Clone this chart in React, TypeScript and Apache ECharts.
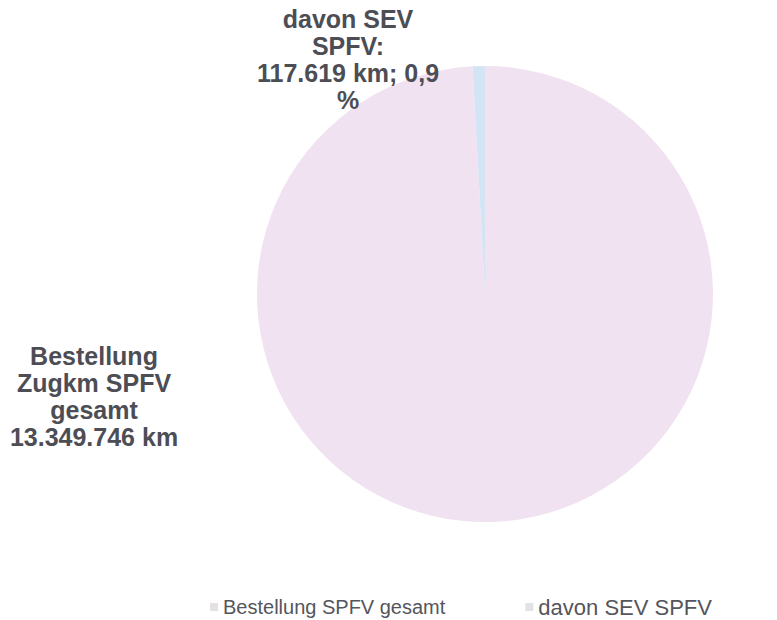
import React, { useEffect, useRef } from "react";
import * as echarts from "echarts";

const categories = ["Bestellung SPFV gesamt", "davon SEV SPFV"];
const values = [13349746, 117619];
const labelTitles = ["Bestellung\nZugkm SPFV\ngesamt\n", "davon SEV\nSPFV:\n"];
const sliceColors = ["#f0e2f0", "#d3e4f4"];
const legendIconColors = ["#e4e0e4", "#e2e2e6"];

function formatDe(n: number): string {
  const s = Math.round(n).toString();
  return s.replace(/\B(?=(\d{3})+(?!\d))/g, ".");
}

export default function App() {
  const ref = useRef<HTMLDivElement>(null);
  useEffect(() => {
    document.body.style.margin = "0";
    if (!ref.current) return;
    const chart = echarts.init(ref.current, null, { renderer: "svg" });
    const labelPos = [
      [94, 396],
      [348, 59],
    ];
    const font = "'Liberation Sans', Arial, sans-serif";
    chart.setOption({
      animation: false,
      backgroundColor: "#ffffff",
      textStyle: { fontFamily: font },
      legend: {
        left: 205,
        top: 591,
        icon: "rect",
        itemWidth: 8,
        itemHeight: 8,
        itemGap: 80,
        textStyle: { fontSize: 20, color: "#55555c", fontFamily: font },
        data: [
          { name: categories[0], itemStyle: { color: legendIconColors[0] } },
          {
            name: categories[1],
            itemStyle: { color: legendIconColors[1] },
            textStyle: { fontSize: 22, color: "#55555c", fontFamily: font },
          },
        ],
      },
      series: [
        {
          type: "pie",
          center: [485, 294],
          radius: 228,
          startAngle: 90,
          clockwise: true,
          avoidLabelOverlap: false,
          itemStyle: { borderWidth: 0 },
          label: {
            show: true,
            position: "outside",
            fontSize: 25,
            fontWeight: "bold",
            lineHeight: 27,
            color: "#4d4d55",
            align: "center",
            fontFamily: font,
            formatter: (p: any) => {
              if (p.dataIndex === 0) {
                return labelTitles[0] + formatDe(p.value) + " km";
              }
              const pct = p.percent.toFixed(1).replace(".", ",");
              return labelTitles[1] + formatDe(p.value) + " km; " + pct + "\n%";
            },
          },
          labelLine: { show: false },
          labelLayout: (params: any) => ({
            x: labelPos[params.dataIndex][0],
            y: labelPos[params.dataIndex][1],
            align: "center",
            verticalAlign: "middle",
          }),
          data: categories.map((c, i) => ({
            name: c,
            value: values[i],
            itemStyle: { color: sliceColors[i] },
          })),
        },
      ],
    });
    return () => chart.dispose();
  }, []);
  return <div ref={ref} style={{ width: 777, height: 620 }} />;
}
